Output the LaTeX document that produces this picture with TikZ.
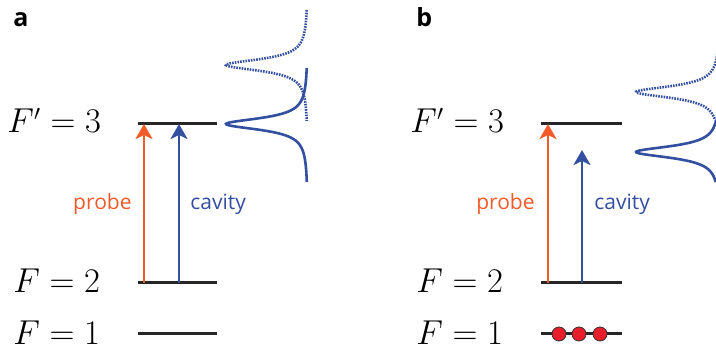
\documentclass[tikz,border=0pt]{standalone}
\usepackage{fontspec}
\setsansfont{Open Sans}
\usetikzlibrary{arrows.meta, positioning}

\definecolor{probeorange}{RGB}{241,90,41}
\definecolor{cavityblue}{RGB}{51,79,160}
\definecolor{atomred}{RGB}{232,30,42}

\tikzset{
    level/.style={line width=1.5pt, black!85},
    pumparrow/.style={line width=1.4pt, -{Stealth[length=7.5pt, width=8.5pt, inset=2pt]}},
    probearrow/.style={pumparrow, probeorange},
    cavityarrow/.style={pumparrow, cavityblue},
    lorentz/.style={line width=1.3pt, cavityblue},
    lorentzdot/.style={lorentz, dash pattern=on 0.8pt off 0.55pt},
    statelabel/.style={anchor=base west, inner sep=0pt, font=\fontsize{16}{19}\selectfont},
    armlabel/.style={inner sep=0pt, font=\sffamily\fontsize{10.5}{12}\selectfont},
    panellabel/.style={anchor=base west, inner sep=0pt, font=\sffamily\bfseries\fontsize{12.5}{15}\selectfont},
    atom/.style={circle, draw=black!80, line width=0.4pt, fill=atomred, minimum size=7pt, inner sep=0pt}
}

\begin{document}
\begin{tikzpicture}[x=0.5pt, y=-0.5pt]
    \useasboundingbox (0,0) rectangle (716,351);

    % Heights of the levels and width of the lines
    \def\yup{124}
    \def\ymid{283}
    \def\ylow{334}
    \def\hwhm{7} % half width of the resonance

    %%%%%%%%%% panel a %%%%%%%%%%
    \node[panellabel] (laba) at (13,27) {a};

    % Levels
    \coordinate (a3l) at (138,\yup);  \coordinate (a3r) at (217,\yup);
    \coordinate (a2l) at (138,\ymid); \coordinate (a2r) at (217,\ymid);
    \coordinate (a1l) at (138,\ylow); \coordinate (a1r) at (217,\ylow);
    \draw[level] (a3l) -- (a3r);
    \draw[level] (a2l) -- (a2r);
    \draw[level] (a1l) -- (a1r);

    \node[statelabel] (a3lab) at (7,133) {$F' = 3$};
    \node[statelabel] (a2lab) at (13,293) {$F = 2$};
    \node[statelabel] (a1lab) at (13,345) {$F = 1$};

    % Probe and cavity transitions
    \coordinate (pa0) at (144,\ymid); \coordinate (pa1) at (144,\yup);
    \coordinate (ca0) at (179,\ymid); \coordinate (ca1) at (179,\yup);
    \draw[probearrow] (pa0) -- (pa1);
    \draw[cavityarrow] (ca0) -- (ca1);
    \node[armlabel, anchor=base east, text=probeorange] (proba) at (132,210) {probe};
    \node[armlabel, anchor=base west, text=cavityblue] (cava) at (190,210) {cavity};

    % Cavity transmission: shifted (dotted) and on resonance (solid)
    \draw[lorentzdot] plot[domain=10:121, samples=140, smooth] ({308 - 82/(1+((\x-65)/\hwhm)^2)}, \x);
    \draw[lorentz] plot[domain=68:182, samples=140, smooth] ({308 - 82/(1+((\x-124)/\hwhm)^2)}, \x);

    %%%%%%%%%% panel b %%%%%%%%%%
    \node[panellabel] (labb) at (416,27) {b};

    % Levels
    \coordinate (b3l) at (541,\yup);  \coordinate (b3r) at (622,\yup);
    \coordinate (b2l) at (541,\ymid); \coordinate (b2r) at (622,\ymid);
    \coordinate (b1l) at (541,\ylow); \coordinate (b1r) at (622,\ylow);
    \draw[level] (b3l) -- (b3r);
    \draw[level] (b2l) -- (b2r);
    \draw[level] (b1l) -- (b1r);

    \node[statelabel] (b3lab) at (410,133) {$F' = 3$};
    \node[statelabel] (b2lab) at (416,293) {$F = 2$};
    \node[statelabel] (b1lab) at (416,345) {$F = 1$};

    % Atoms in the lower state
    \node[atom] (at1) at (559,\ylow) {};
    \node[atom] (at2) at (579,\ylow) {};
    \node[atom] (at3) at (600,\ylow) {};

    % Probe and cavity transitions
    \coordinate (pb0) at (548,\ymid); \coordinate (pb1) at (548,\yup);
    \coordinate (cb0) at (582,\ymid); \coordinate (cb1) at (582,150);
    \draw[probearrow] (pb0) -- (pb1);
    \draw[cavityarrow] (cb0) -- (cb1);
    \node[armlabel, anchor=base east, text=probeorange] (probb) at (535,210) {probe};
    \node[armlabel, anchor=base west, text=cavityblue] (cavb) at (594,210) {cavity};

    % Cavity transmission, cut at the edge
    \begin{scope}
        \clip (0,0) rectangle (716,351);
        \draw[lorentzdot] plot[domain=40:120, samples=120, smooth] ({720 - 84/(1+((\x-92)/\hwhm)^2)}, \x);
        \draw[lorentz] plot[domain=120:182, samples=120, smooth] ({720 - 84/(1+((\x-152)/\hwhm)^2)}, \x);
    \end{scope}

\end{tikzpicture}
\end{document}
